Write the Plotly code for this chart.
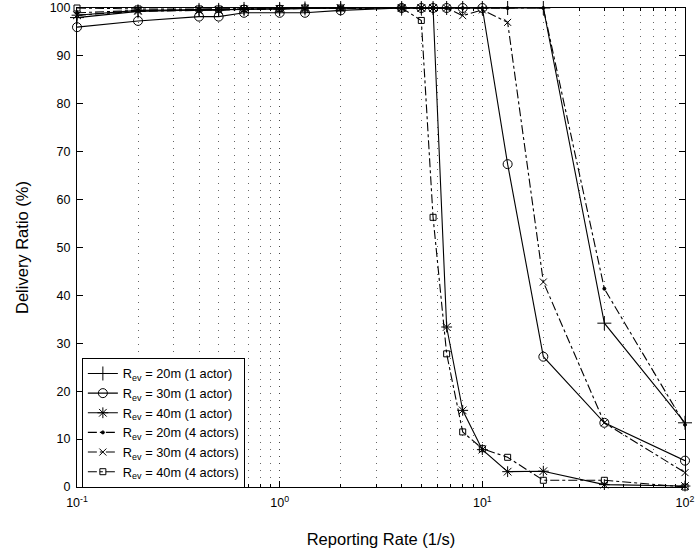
import plotly.graph_objects as go

rates = [0.1, 0.2, 0.4, 0.5, 0.667, 1, 1.333, 2, 4, 5, 5.714, 6.667, 8, 10, 13.33, 20, 40, 100]

r20_1 = [98.0, 99.3, 99.6, 99.6, 99.8, 99.8, 99.9, 100, 100, 100, 100, 100, 100, 100, 100, 100, 34.2, 13.4]
r30_1 = [96.0, 97.3, 98.2, 98.2, 99.0, 99.0, 99.0, 99.5, 100, 100, 100, 100, 100, 100, 67.4, 27.2, 13.4, 5.5]
r40_1 = [98.5, 99.5, 99.6, 99.6, 99.7, 99.8, 99.9, 100, 100, 100, 100, 33.4, 16.0, 7.8, 3.2, 3.3, 0.5, 0.2]
r20_4 = [99.0, 99.5, 99.7, 99.7, 99.8, 99.9, 99.9, 100, 100, 100, 100, 100, 100, 100, 100, 100, 41.4, 13.0]
r30_4 = [98.5, 99.3, 99.5, 99.6, 99.7, 99.8, 99.9, 100, 100, 100, 100, 100, 98.4, 99.6, 97.0, 42.8, 13.4, 3.0]
r40_4 = [100, 99.8, 99.8, 99.8, 99.9, 99.9, 100, 100, 100, 97.4, 56.3, 27.8, 11.5, 8.0, 6.2, 1.4, 1.4, 0.0]

x_major = [0.1, 1, 10, 100]
x_major_text = ["10<sup>-1</sup>", "10<sup>0</sup>", "10<sup>1</sup>", "10<sup>2</sup>"]
x_minor = [m * d for d in [0.1, 1, 10] for m in [2, 3, 4, 5, 6, 7, 8, 9]]

names = [
    "R<sub>ev</sub> = 20m (1 actor)",
    "R<sub>ev</sub> = 30m (1 actor)",
    "R<sub>ev</sub> = 40m (1 actor)",
    "R<sub>ev</sub> = 20m (4 actors)",
    "R<sub>ev</sub> = 30m (4 actors)",
    "R<sub>ev</sub> = 40m (4 actors)",
]
series = [r20_1, r30_1, r40_1, r20_4, r30_4, r40_4]
symbols = ["cross-thin-open", "circle-open", "asterisk-open", "circle", "x-thin-open", "square-open"]
sizes = [10, 9, 9, 3, 7, 6]
dashes = ["solid", "solid", "solid", "dashdot", "dashdot", "dashdot"]

fig = go.Figure()
for nm, ys, sym, sz, ds in zip(names, series, symbols, sizes, dashes):
    fig.add_trace(go.Scatter(
        x=rates, y=ys, name=nm, mode="lines+markers",
        line=dict(color="black", width=1.1, dash=ds),
        marker=dict(symbol=sym, size=sz, color="black", line=dict(color="black", width=1)),
        cliponaxis=False,
    ))

fig.update_layout(
    width=696, height=552,
    margin=dict(l=77, r=11, t=8, b=65),
    paper_bgcolor="white", plot_bgcolor="white",
    font=dict(family="Liberation Sans, Arial, sans-serif", size=12.5, color="black"),
    legend=dict(
        x=0.008, y=0.27, xanchor="left", yanchor="top",
        bordercolor="black", borderwidth=1, bgcolor="white",
        font=dict(size=12.8), tracegroupgap=0, itemwidth=30,
    ),
)
fig.update_xaxes(
    type="log", range=[-1, 2], automargin=False,
    tickvals=x_major, ticktext=x_major_text, ticklabelstandoff=4,
    ticks="inside", ticklen=6, tickcolor="black",
    showline=True, linecolor="black", linewidth=1, mirror="ticks",
    showgrid=True, gridcolor="#444", griddash="1px,6px", gridwidth=1,
    minor=dict(tickvals=x_minor, ticks="inside", ticklen=3, tickcolor="black", showgrid=True,
               gridcolor="#666", griddash="1px,6px", gridwidth=1),
    title=dict(text="Reporting Rate (1/s)", font=dict(size=16.5), standoff=24),
    zeroline=False,
)
fig.update_yaxes(
    range=[0, 100], dtick=10, automargin=False, ticklabelstandoff=3,
    ticks="inside", ticklen=6, tickcolor="black",
    showline=True, linecolor="black", linewidth=1, mirror="ticks",
    showgrid=False, zeroline=False,
    title=dict(text="Delivery Ratio (%)", font=dict(size=16.5), standoff=16),
)

fig.write_html("out.html")
